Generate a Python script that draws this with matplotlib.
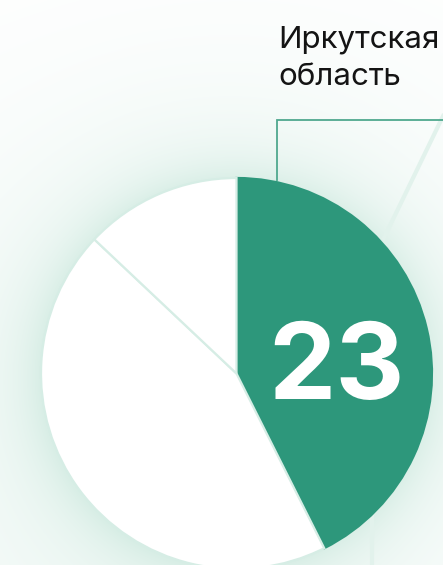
import numpy as np
import matplotlib
matplotlib.use("Agg")
import matplotlib.pyplot as plt
from matplotlib.colors import to_rgb

# ---- data ----
region_label = "Иркутская\nобласть"
slice_values = [23, 24, 7]
slice_colors = ["#2d977b", "#ffffff", "#ffffff"]
highlight_value = slice_values[0]

W, H = 443, 565
fig = plt.figure(figsize=(W / 100, H / 100), dpi=100)
ax = fig.add_axes([0, 0, 1, 1])
ax.set_xlim(0, W)
ax.set_ylim(0, H)
ax.axis("off")

cx, cy, r = 236.5, H - 373.5, 195.5

# background glow
yy, xx = np.mgrid[0:H, 0:W]
yy = H - yy - 0.5
xx = xx + 0.5
d = np.hypot(xx - cx, yy - cy) - r
glow = np.where(d > 0, 0.45 * np.exp(-d / 28.0) + 0.35 * np.exp(-d / 110.0), 0)
tint = 0.15 * np.clip((H - yy) / H, 0, 1) * np.clip(1 - xx / W + 0.3, 0, 1)
a = np.clip(glow + tint, 0, 1)[..., None] * 0.5
g = np.array(to_rgb("#a9d9c7"))
img = (1 - a) * np.ones(3) + a * g
ax.imshow(img, extent=[0, W, 0, H], origin="upper", zorder=0, interpolation="bilinear")

# faint connector lines from neighbouring elements
ax.plot([W + 2, 383], [H - 112, H - 240], color="#e2f2ec", lw=3, zorder=1, solid_capstyle="butt")
ax.plot([372, 372], [H - 515, -2], color="#e2f2ec", lw=3, zorder=1, solid_capstyle="butt")

wedges, _ = ax.pie(slice_values, colors=slice_colors, startangle=90, counterclock=False,
                   center=(cx, cy), radius=r, frame=True,
                   wedgeprops=dict(edgecolor="#d6ede5", linewidth=1.6))
wedges[0].set_edgecolor(slice_colors[0])
for w in wedges:
    w.set_zorder(3)
ax.set_xlim(0, W)
ax.set_ylim(0, H)
ax.set_aspect("equal")
ax.axis("off")

# leader line
lx, ly = 277, H - 119.5
ax.plot([lx, lx, W + 2], [cy + r - 2, ly, ly], color="#4fa88e", lw=1.3, zorder=2,
        solid_joinstyle="miter")

for i, line in enumerate(region_label.split("\n")):
    ax.text(lx + 1.5, H - (48 + 37 * i), line, ha="left", va="baseline", fontsize=22.5,
            family=["Inter", "DejaVu Sans"], color="#141414", zorder=5)

ax.text(336.5, H - 399, str(highlight_value), ha="center", va="baseline",
        fontsize=77, family=["Inter", "DejaVu Sans"], fontweight="bold",
        color="white", zorder=5)

fig.savefig("out.png", dpi=100)
